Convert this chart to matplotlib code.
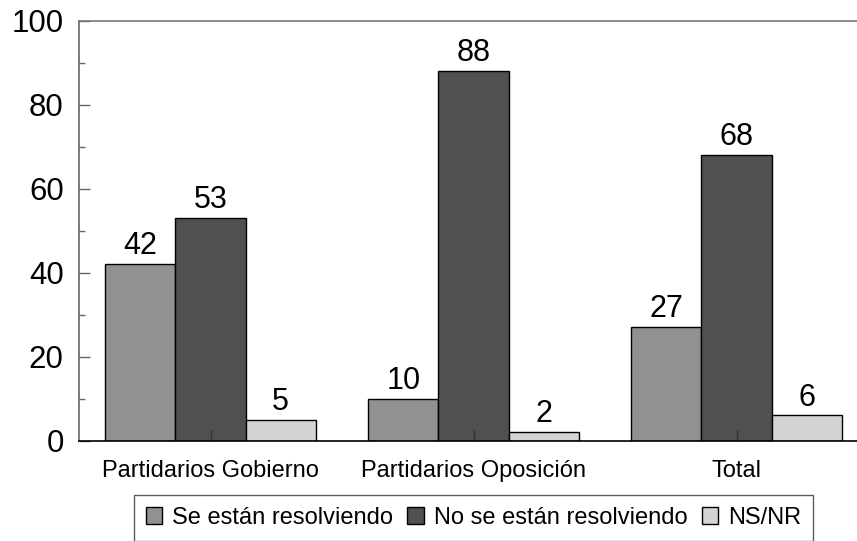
import numpy as np
import matplotlib
matplotlib.use('Agg')
import matplotlib.pyplot as plt
from matplotlib.ticker import MultipleLocator

plt.rcParams['font.family'] = ['Liberation Sans', 'DejaVu Sans']

categories = ['Partidarios Gobierno', 'Partidarios Oposición', 'Total']
series_names = ['Se están resolviendo', 'No se están resolviendo', 'NS/NR']
se_resuelven = [42, 10, 27]
no_se_resuelven = [53, 88, 68]
ns_nr = [5, 2, 6]
colors = ['#919191', '#505050', '#d4d4d4']

fig = plt.figure(figsize=(8.57, 5.41), dpi=100)
ax = fig.add_axes([79 / 857, 100.5 / 541, 789 / 857, 420 / 541])

x = np.arange(len(categories))
width = 0.8 / 3
for i, (vals, name) in enumerate(zip([se_resuelven, no_se_resuelven, ns_nr], series_names)):
    bars = ax.bar(x + (i - 1) * width, vals, width, color=colors[i], edgecolor='black',
                  linewidth=1, label=name)
    ax.bar_label(bars, padding=2, fontsize=22)

ax.set_xlim(-0.5, 2.5)
ax.set_ylim(0, 100)
ax.set_xticks(x)
ax.set_xticklabels(categories, fontsize=17)
ax.yaxis.set_major_locator(MultipleLocator(20))
ax.yaxis.set_minor_locator(MultipleLocator(10))
ax.tick_params(axis='y', which='major', direction='in', length=8, width=1, color='#666666',
               labelsize=22.5, pad=11)
ax.tick_params(axis='y', which='minor', direction='in', length=4.5, width=1, color='#666666')
ax.tick_params(axis='x', direction='in', length=8, width=1, color='#333333', pad=14)

ax.spines['right'].set_visible(False)
ax.spines['left'].set_color('#666666')
ax.spines['top'].set_color('#777777')
ax.spines['bottom'].set_color('black')
for s in ax.spines.values():
    s.set_linewidth(1.2)

leg = ax.legend(loc='upper center', bbox_to_anchor=(0.5, -0.13), ncol=3, fontsize=17,
                frameon=True, fancybox=False, edgecolor='#333333', handlelength=0.7,
                handleheight=0.75, handletextpad=0.42, columnspacing=0.6, borderpad=0.5,
                borderaxespad=0)
leg.get_frame().set_linewidth(1)

fig.savefig('out.png', dpi=100)
